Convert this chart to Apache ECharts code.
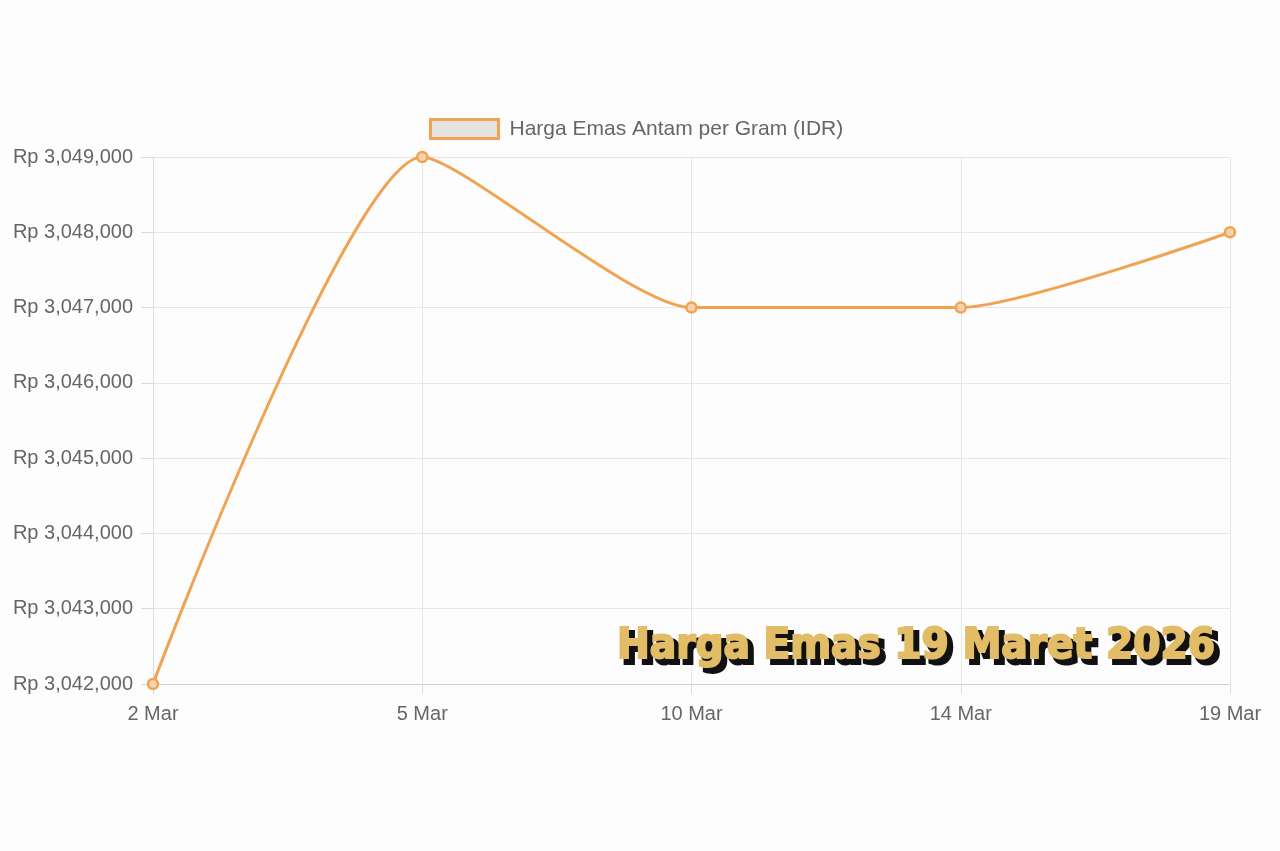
<!DOCTYPE html>
<html>
<head>
<meta charset="utf-8">
<script src="https://cdn.jsdelivr.net/npm/echarts@6/dist/echarts.min.js"></script>
<style>
html, body { margin: 0; padding: 0; background: #fdfdfd; }
#chart { width: 1280px; height: 851px; }
</style>
</head>
<body>
<div id="chart"></div>
<script>
var categories = ['2 Mar', '5 Mar', '10 Mar', '14 Mar', '19 Mar'];
var prices = [3042000, 3049000, 3047000, 3047000, 3048000];
var seriesName = 'Harga Emas Antam per Gram (IDR)';
var overlayText = 'Harga Emas 19 Maret 2026';

var chart = echarts.init(document.getElementById('chart'));

function rupiah(v) {
    return 'Rp ' + v.toString().replace(/\B(?=(\d{3})+(?!\d))/g, ',');
}

var overlayFont = '900 43.5px "DejaVu Sans Condensed", "DejaVu Sans", sans-serif';

var option = {
    backgroundColor: '#fdfdfd',
    animation: false,
    legend: {
        data: [seriesName],
        top: 113,
        left: 424,
        itemWidth: 68,
        itemHeight: 19,
        icon: 'rect',
        textStyle: { color: '#666', fontSize: 21, fontFamily: 'Liberation Sans', padding: [0, 0, 0, 6] },
        itemStyle: { color: '#e3e3e3', borderColor: '#f0a453', borderWidth: 3 }
    },
    grid: { left: 153, right: 50, top: 157, bottom: 167 },
    xAxis: {
        type: 'category',
        data: categories,
        boundaryGap: false,
        axisLine: { lineStyle: { color: '#cfcfcf' } },
        axisTick: { length: 10, lineStyle: { color: '#dcdcdc' } },
        splitLine: { show: true, lineStyle: { color: '#e6e6e6' } },
        axisLabel: { color: '#666', fontSize: 20, fontFamily: 'Liberation Sans', margin: 20 }
    },
    yAxis: {
        type: 'value',
        min: 3042000,
        max: 3049000,
        interval: 1000,
        axisLine: { show: true, lineStyle: { color: '#dcdcdc' } },
        axisTick: { show: true, length: 12, lineStyle: { color: '#dcdcdc' } },
        splitLine: { lineStyle: { color: '#e6e6e6' } },
        axisLabel: { color: '#666', fontSize: 20, fontFamily: 'Liberation Sans', margin: 20, formatter: rupiah }
    },
    series: [{
        name: seriesName,
        type: 'line',
        data: prices,
        smooth: 0.2,
        symbol: 'circle',
        symbolSize: 10,
        lineStyle: { color: '#f0a453', width: 3 },
        itemStyle: { color: '#f6d3ad', borderColor: '#f0a453', borderWidth: 2.5 }
    }],
    graphic: [{
        type: 'text',
        left: 620,
        top: 628,
        z: 99,
        style: {
            text: overlayText,
            fill: '#111',
            font: overlayFont,
            stroke: '#111',
            lineWidth: 4
        }
    }, {
        type: 'text',
        left: 616,
        top: 624,
        z: 100,
        style: {
            text: overlayText,
            fill: '#e2bc66',
            font: overlayFont,
            stroke: '#e2bc66',
            lineWidth: 2
        }
    }]
};

chart.setOption(option);
</script>
</body>
</html>
